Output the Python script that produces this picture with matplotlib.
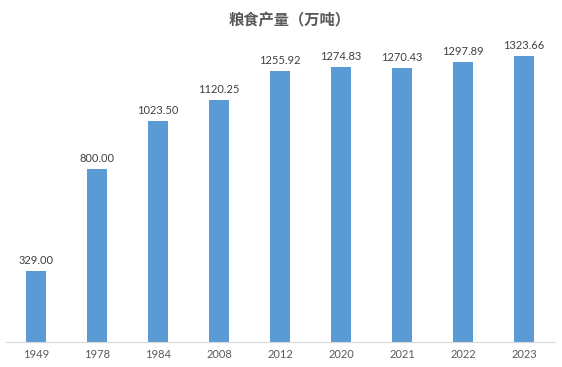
import matplotlib.pyplot as plt

years = ['1949', '1978', '1984', '2008', '2012', '2020', '2021', '2022', '2023']
output = [329.00, 800.00, 1023.50, 1120.25, 1255.92, 1274.83, 1270.43, 1297.89, 1323.66]

W, H = 562, 367
fig = plt.figure(figsize=(W / 100, H / 100), dpi=100)
ax = fig.add_axes([5.5 / W, 25 / H, 549 / W, 302 / H])

x = range(len(years))
bars = ax.bar(x, output, width=0.33, color='#5B9BD5', zorder=2)
for xi, v in zip(x, output):
    ax.text(xi, v + 25, f'{v:.2f}', ha='center', va='bottom',
            fontsize=8, family='Lato', color='#404040')

ax.set_xlim(-0.5, len(years) - 0.5)
ax.set_ylim(0, 1400)
ax.set_xticks(list(x))
ax.set_xticklabels(years, family='Lato', fontsize=8, color='#595959')
ax.tick_params(axis='x', length=0, pad=5)
ax.set_yticks([])
for s in ['top', 'right', 'left']:
    ax.spines[s].set_visible(False)
ax.spines['bottom'].set_color('#D9D9D9')

fig.text(290 / W, 1 - 20 / H, '粮食产量（万吨）', ha='center', va='center',
         fontsize=11, fontweight='bold', color='#595959',
         family=['Noto Sans CJK SC', 'DejaVu Sans'])

fig.savefig('out.png', dpi=100)
